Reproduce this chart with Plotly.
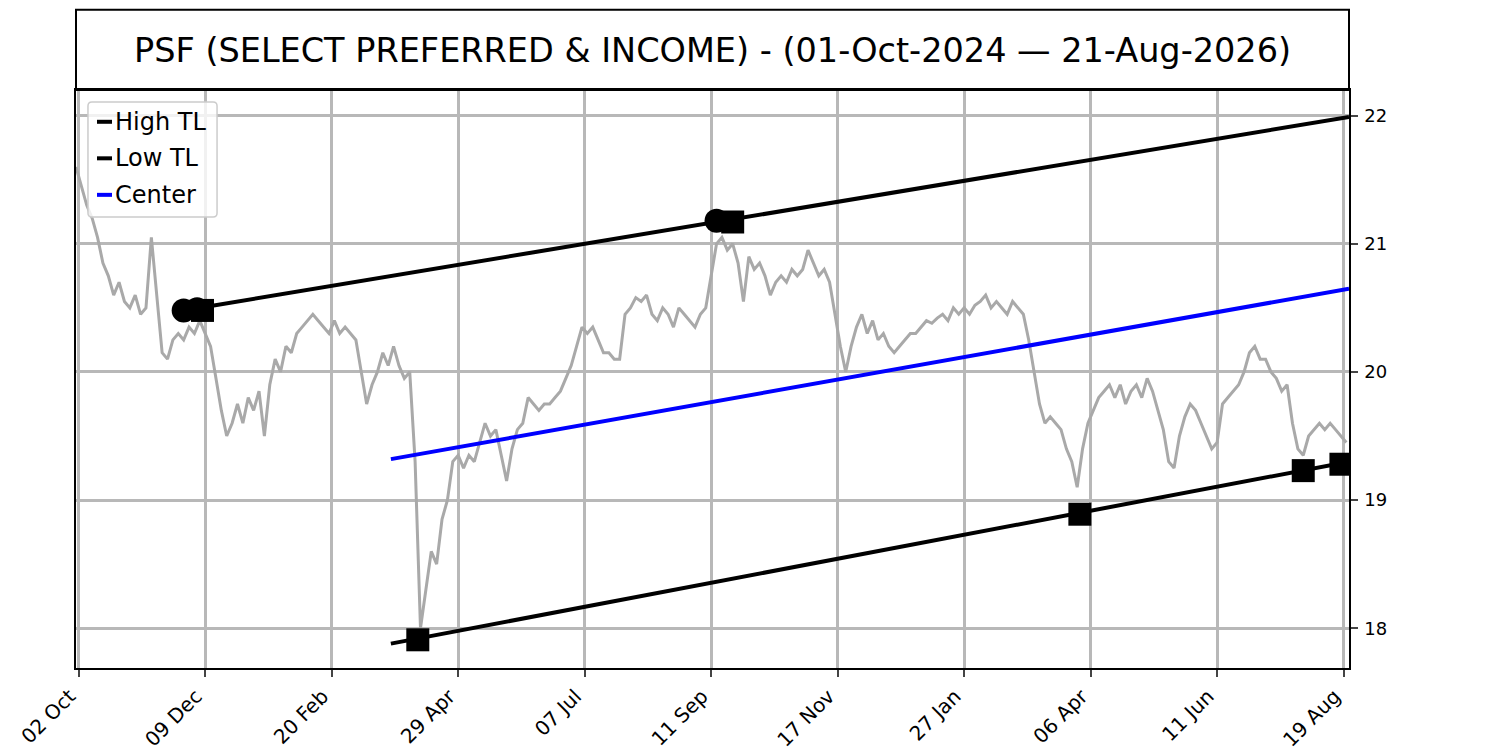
import plotly.graph_objects as go

TITLE = "PSF (SELECT PREFERRED & INCOME) - (01-Oct-2024 \u2014 21-Aug-2026)"

# trading-day axis: 0 = 01-Oct-2024, 473 = 21-Aug-2026
tick_days = [1, 48, 95, 142, 189, 236, 283, 330, 377, 424, 471]
tick_labels = ["02 Oct", "09 Dec", "20 Feb", "29 Apr", "07 Jul", "11 Sep",
               "17 Nov", "27 Jan", "06 Apr", "11 Jun", "19 Aug"]

# close price, sampled every 2 trading days
price_days = list(range(0, 473, 2))
price = [
    21.60, 21.45, 21.30, 21.20, 21.05, 20.85, 20.75, 20.60, 20.70, 20.55,
    20.50, 20.60, 20.45, 20.50, 21.05, 20.60, 20.15, 20.10, 20.25, 20.30,
    20.25, 20.35, 20.30, 20.40, 20.30, 20.20, 19.95, 19.70, 19.50, 19.60,
    19.75, 19.60, 19.80, 19.70, 19.85, 19.50, 19.90, 20.10, 20.00, 20.20,
    20.15, 20.30, 20.35, 20.40, 20.45, 20.40, 20.35, 20.30, 20.40, 20.30,
    20.35, 20.30, 20.25, 20.00, 19.75, 19.90, 20.00, 20.15, 20.05, 20.20,
    20.05, 19.95, 20.00, 19.30, 18.00, 18.30, 18.60, 18.50, 18.85, 19.00,
    19.30, 19.35, 19.25, 19.35, 19.30, 19.45, 19.60, 19.50, 19.55, 19.35,
    19.15, 19.40, 19.55, 19.60, 19.80, 19.75, 19.70, 19.75, 19.75, 19.80,
    19.85, 19.95, 20.05, 20.20, 20.35, 20.30, 20.35, 20.25, 20.15, 20.15,
    20.10, 20.10, 20.45, 20.50, 20.58, 20.55, 20.60, 20.45, 20.40, 20.50,
    20.45, 20.35, 20.50, 20.45, 20.40, 20.35, 20.45, 20.50, 20.75, 21.00,
    21.05, 20.95, 21.00, 20.85, 20.55, 20.90, 20.80, 20.85, 20.75, 20.60,
    20.70, 20.75, 20.70, 20.80, 20.75, 20.80, 20.95, 20.85, 20.75, 20.80,
    20.70, 20.45, 20.20, 20.00, 20.20, 20.35, 20.45, 20.30, 20.40, 20.25,
    20.30, 20.20, 20.15, 20.20, 20.25, 20.30, 20.30, 20.35, 20.40, 20.38,
    20.42, 20.45, 20.40, 20.50, 20.45, 20.50, 20.45, 20.52, 20.55, 20.60,
    20.50, 20.55, 20.50, 20.45, 20.55, 20.50, 20.45, 20.25, 20.00, 19.75,
    19.60, 19.65, 19.60, 19.55, 19.40, 19.30, 19.10, 19.40, 19.60, 19.70,
    19.80, 19.85, 19.90, 19.80, 19.90, 19.75, 19.85, 19.90, 19.80, 19.95,
    19.85, 19.70, 19.55, 19.30, 19.25, 19.50, 19.65, 19.75, 19.70, 19.60,
    19.50, 19.40, 19.45, 19.75, 19.80, 19.85, 19.90, 20.00, 20.15, 20.20,
    20.10, 20.10, 20.00, 19.95, 19.85, 19.90, 19.60, 19.40, 19.35, 19.50,
    19.55, 19.60, 19.55, 19.60, 19.55, 19.50, 19.45,
]

# trendlines (endpoints)
high_tl_days = [40, 473]
high_tl_vals = [20.48, 21.99]
low_tl_days = [117, 473]
low_tl_vals = [17.88, 19.30]
center_days = [117, 473]
center_vals = [19.32, 20.65]

# pivot highs (circles) and trendline touches (squares)
pivot_days = [40, 45, 238]
pivot_vals = [20.48, 20.49, 21.18]
touch_days = [47, 244, 127, 373, 456, 470]
touch_vals = [20.48, 21.17, 17.91, 18.89, 19.23, 19.28]

legend_names = ["High TL", "Low TL", "Center"]
legend_colours = ["black", "black", "#0000ff"]

fig = go.Figure()
fig.add_trace(go.Scatter(
    x=price_days, y=price, mode="lines",
    line=dict(color="#a9a9a9", width=3),
    showlegend=False, hoverinfo="skip",
))
fig.add_trace(go.Scatter(
    x=high_tl_days, y=high_tl_vals, mode="lines", name="High TL",
    line=dict(color="black", width=4), showlegend=False,
))
fig.add_trace(go.Scatter(
    x=low_tl_days, y=low_tl_vals, mode="lines", name="Low TL",
    line=dict(color="black", width=4), showlegend=False,
))
fig.add_trace(go.Scatter(
    x=center_days, y=center_vals, mode="lines", name="Center",
    line=dict(color="#0000ff", width=4), showlegend=False,
))
fig.add_trace(go.Scatter(
    x=pivot_days, y=pivot_vals, mode="markers",
    marker=dict(symbol="circle", size=24, color="black"),
    showlegend=False,
))
fig.add_trace(go.Scatter(
    x=touch_days, y=touch_vals, mode="markers",
    marker=dict(symbol="square", size=23, color="black"),
    showlegend=False,
))

# boxed title above the axes
fig.add_shape(type="rect", xref="paper", yref="paper",
              x0=0, x1=1, y0=1, y1=1.139, line=dict(color="black", width=2))
fig.add_annotation(text=TITLE, xref="paper", yref="paper", x=0.5, y=1.068,
                   showarrow=False, xanchor="center", yanchor="middle",
                   font=dict(size=33.5, color="black"))

# matplotlib-like legend box (short line handles)
fig.add_shape(type="path", xref="paper", yref="paper",
              path="M 0.0125 0.9792 L 0.1077 0.9792 Q 0.1108 0.9792 0.1108 0.9723 "
                   "L 0.1108 0.7872 Q 0.1108 0.7803 0.1077 0.7803 L 0.0125 0.7803 "
                   "Q 0.0094 0.7803 0.0094 0.7872 L 0.0094 0.9723 Q 0.0094 0.9792 0.0125 0.9792 Z",
              fillcolor="rgba(255,255,255,0.8)", line=dict(color="#cccccc", width=1.5))
for i, (name, colour) in enumerate(zip(legend_names, legend_colours)):
    y = 0.945 - i * 0.0632
    fig.add_shape(type="line", xref="paper", yref="paper",
                  x0=0.0165, x1=0.0283, y0=y, y1=y,
                  line=dict(color=colour, width=4))
    fig.add_annotation(text=name, xref="paper", yref="paper", x=0.0287, y=y,
                       showarrow=False, xanchor="left", yanchor="middle",
                       font=dict(size=24, color="black"))

fig.update_layout(
    width=1500, height=750,
    paper_bgcolor="white", plot_bgcolor="white",
    font=dict(family="DejaVu Sans", color="black"),
    margin=dict(l=68, r=159, t=82, b=90),
    showlegend=False,
    xaxis=dict(range=[0, 473], tickvals=tick_days, ticktext=tick_labels,
               tickangle=-45, tickfont=dict(size=20), ticks="outside",
               ticklen=7, tickwidth=1.5, ticklabelshift=-9,
               showgrid=True, gridcolor="#b8b8b8",
               gridwidth=3, showline=True, linecolor="black", linewidth=1.5,
               mirror=True, zeroline=False, automargin=False),
    yaxis=dict(range=[17.69, 22.2], side="right", dtick=1,
               tickfont=dict(size=18), ticks="outside", ticklen=7,
               tickwidth=1.5, ticklabelstandoff=3,
               showgrid=True, gridcolor="#b8b8b8", gridwidth=3,
               showline=True, linecolor="black", linewidth=1.5, mirror=True,
               zeroline=False, automargin=False),
)

fig.write_html("out.html")
